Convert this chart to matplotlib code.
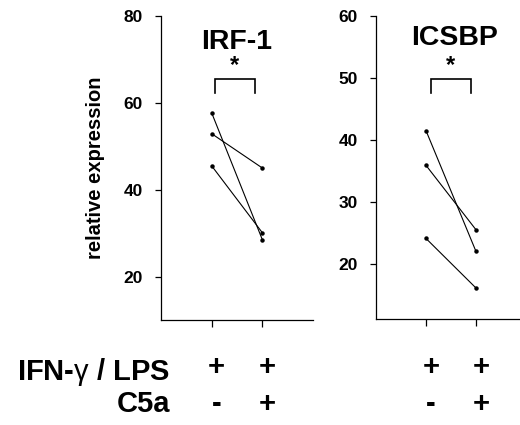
import matplotlib
matplotlib.use('Agg')
import matplotlib.pyplot as plt
import matplotlib.transforms as mtransforms

plt.rcParams['font.family'] = ['Liberation Sans', 'DejaVu Sans']
plt.rcParams['mathtext.fontset'] = 'custom'
plt.rcParams['mathtext.rm'] = 'Liberation Sans'
plt.rcParams['mathtext.it'] = 'Liberation Sans'

# Paired values: (IFN-g/LPS, IFN-g/LPS + C5a)
irf1_ctrl = [57.7, 52.9, 45.5]
irf1_c5a = [28.5, 45.0, 30.1]
icsbp_ctrl = [41.5, 35.9, 24.1]
icsbp_c5a = [22.0, 25.5, 16.1]

conditions = [1, 2]
row_ifn = ['+', '+']
row_c5a = ['-', '+']

irf1_ticks = [20, 40, 60, 80]
icsbp_ticks = [20, 30, 40, 50, 60]

fig = plt.figure(figsize=(5.2, 4.25), dpi=100)
ax1 = fig.add_axes([161 / 520, 1 - 320 / 425, 152 / 520, 304 / 425])
ax2 = fig.add_axes([376 / 520, 1 - 319 / 425, 150 / 520, 303 / 425])


def style_axis(ax, yticks, ylim, xlim):
    ax.set_ylim(*ylim)
    ax.set_xlim(*xlim)
    ax.set_yticks(yticks)
    ax.set_xticks(conditions)
    ax.set_xticklabels([])
    ax.spines['top'].set_visible(False)
    ax.spines['right'].set_visible(False)
    for s in ['left', 'bottom']:
        ax.spines[s].set_linewidth(0.9)
    ax.tick_params(axis='y', length=4, width=0.9, pad=9, labelsize=12.5)
    ax.tick_params(axis='x', length=5, width=0.9)
    for lab in ax.get_yticklabels():
        lab.set_fontweight('bold')


def draw_pairs(ax, ctrl, c5a):
    for a, b in zip(ctrl, c5a):
        ax.plot(conditions, [a, b], color='black', linewidth=0.8,
                marker='o', markersize=2.2)


def bracket(ax, x0, x1, ylo, yhi, ystar):
    ax.plot([x0, x0, x1, x1], [ylo, yhi, yhi, ylo], color='black',
            linewidth=1.2, solid_joinstyle='miter', clip_on=False)
    ax.text((x0 + x1) / 2, ystar, '*', ha='center', va='baseline',
            fontsize=17, fontweight='bold')


draw_pairs(ax1, irf1_ctrl, irf1_c5a)
style_axis(ax1, irf1_ticks, (10, 80), (0, 3))
bracket(ax1, 1.07, 1.85, 62.2, 65.5, 67.0)
ax1.text(1.5, 74.0, 'IRF-1', ha='center', va='center', fontsize=20.5,
         fontweight='bold')
ax1.set_ylabel('relative expression', fontsize=14.5, fontweight='bold')
ax1.yaxis.set_label_coords(-0.37, 0.5)

draw_pairs(ax2, icsbp_ctrl, icsbp_c5a)
style_axis(ax2, icsbp_ticks, (11.1, 60), (0, 3))
bracket(ax2, 1.1, 1.9, 47.6, 49.8, 51.0)
ax2.text(1.58, 56.4, 'ICSBP', ha='center', va='center', fontsize=20.5,
         fontweight='bold')

# condition table below the axes
fig.text(170 / 520, 1 - 372 / 425, r'IFN-$\gamma$ / LPS', ha='right',
         va='center', fontsize=21, fontweight='bold')
fig.text(170 / 520, 1 - 404 / 425, 'C5a', ha='right', va='center',
         fontsize=21, fontweight='bold')
for ax in [ax1, ax2]:
    trans = mtransforms.blended_transform_factory(ax.transData, fig.transFigure)
    for x, p, c in zip(conditions, row_ifn, row_c5a):
        ax.text(x + 0.1, 1 - 367 / 425, p, transform=trans, ha='center',
                va='center', fontsize=21, fontweight='bold', clip_on=False)
        ax.text(x + 0.1, 1 - 404 / 425, c, transform=trans, ha='center',
                va='center', fontsize=21, fontweight='bold', clip_on=False)

fig.savefig('out.png', dpi=100)
